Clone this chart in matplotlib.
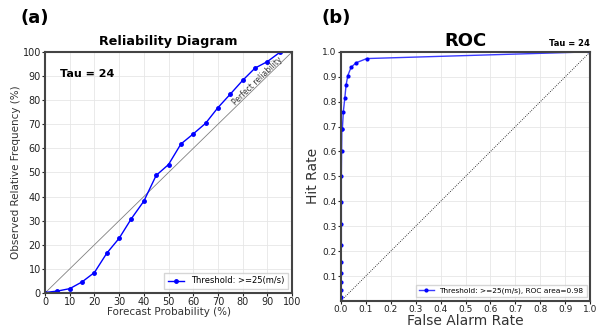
import matplotlib
matplotlib.use("Agg")
import matplotlib.pyplot as plt
import numpy as np

# reliability diagram data
fcst_prob = [0, 5, 10, 15, 20, 25, 30, 35, 40, 45, 50, 55, 60, 65, 70, 75, 80, 85, 90, 95]
obs_freq = [0.2, 0.8, 1.8, 4.6, 8.5, 16.5, 22.7, 30.9, 38.1, 48.8, 53.3, 61.8,
            66.0, 70.4, 76.9, 82.5, 88.2, 93.3, 96.0, 99.8]

# ROC data
far = [0.0, 0.001, 0.001, 0.001, 0.001, 0.001, 0.002, 0.002, 0.002, 0.002, 0.003,
       0.004, 0.006, 0.010, 0.016, 0.021, 0.028, 0.041, 0.061, 0.104, 1.0]
hit = [0.0, 0.017, 0.044, 0.075, 0.114, 0.158, 0.225, 0.309, 0.399, 0.502, 0.602,
       0.690, 0.690, 0.760, 0.816, 0.867, 0.905, 0.938, 0.956, 0.973, 1.0]
roc_area = 0.98

fig = plt.figure(figsize=(5.98, 3.27), dpi=100)

spine_col = "#444444"

# --- (a) reliability diagram ---
ax1 = fig.add_axes([0.0753, 0.104, 0.413, 0.737])
ax1.plot([0, 100], [0, 100], color="gray", lw=0.6)
ax1.plot(fcst_prob, obs_freq, "-o", color="blue", lw=1.0, ms=2.5,
         label="Threshold: >=25(m/s)")
ax1.text(86, 88, "Perfect reliability", rotation=44, ha="center", va="center",
         fontsize=5.5, color="#333333")
ax1.text(6, 91, "Tau = 24", fontsize=8, fontweight="bold", va="center")
ax1.set_xlim(0, 100)
ax1.set_ylim(0, 100)
ax1.set_xticks(np.arange(0, 101, 10))
ax1.set_yticks(np.arange(0, 101, 10))
ax1.tick_params(labelsize=7, length=2, pad=1, colors="#222222")
ax1.grid(True, color="#e6e6e6", lw=0.6)
ax1.set_xlabel("Forecast Probability (%)", fontsize=7.5, labelpad=0, color="#333333")
ax1.set_ylabel("Observed Relative Frequency (%)", fontsize=7.5, labelpad=1, color="#333333")
ax1.set_title("Reliability Diagram", fontsize=9.2, fontweight="bold", pad=5)
ax1.legend(loc="lower right", fontsize=6, fancybox=False, edgecolor="#cccccc")
for s in ax1.spines.values():
    s.set_color(spine_col)
    s.set_linewidth(1.5)

# --- (b) ROC ---
ax2 = fig.add_axes([0.570, 0.0795, 0.417, 0.762])
ax2.plot([0, 1], [0, 1], color="black", ls=":", lw=0.6)
ax2.plot(far, hit, "-o", color="#3a3aff", lw=1.0, ms=2.0, mfc="blue", mec="blue",
         label="Threshold: >=25(m/s), ROC area=%.2f" % roc_area)
ax2.set_xlim(0, 1)
ax2.set_ylim(0, 1)
ax2.set_xticks(np.arange(0, 1.01, 0.1))
ax2.set_yticks(np.arange(0.1, 1.01, 0.1))
ax2.tick_params(labelsize=6.5, length=2, pad=1, colors="#222222")
ax2.grid(True, color="#e6e6e6", lw=0.6)
ax2.set_xlabel("False Alarm Rate", fontsize=10, labelpad=0, color="#333333")
ax2.set_ylabel("Hit Rate", fontsize=10, labelpad=2, color="#333333")
ax2.set_title("ROC", fontsize=13, fontweight="bold", pad=4)
ax2.set_title("Tau = 24", fontsize=6, fontweight="bold", loc="right", pad=4)
ax2.legend(loc="lower right", fontsize=5.3, fancybox=False, edgecolor="#cccccc")
for s in ax2.spines.values():
    s.set_color(spine_col)
    s.set_linewidth(1.5)

fig.text(0.035, 0.945, "(a)", fontsize=13, fontweight="bold", va="center")
fig.text(0.538, 0.945, "(b)", fontsize=13, fontweight="bold", va="center")

fig.savefig("out.png", dpi=100)
